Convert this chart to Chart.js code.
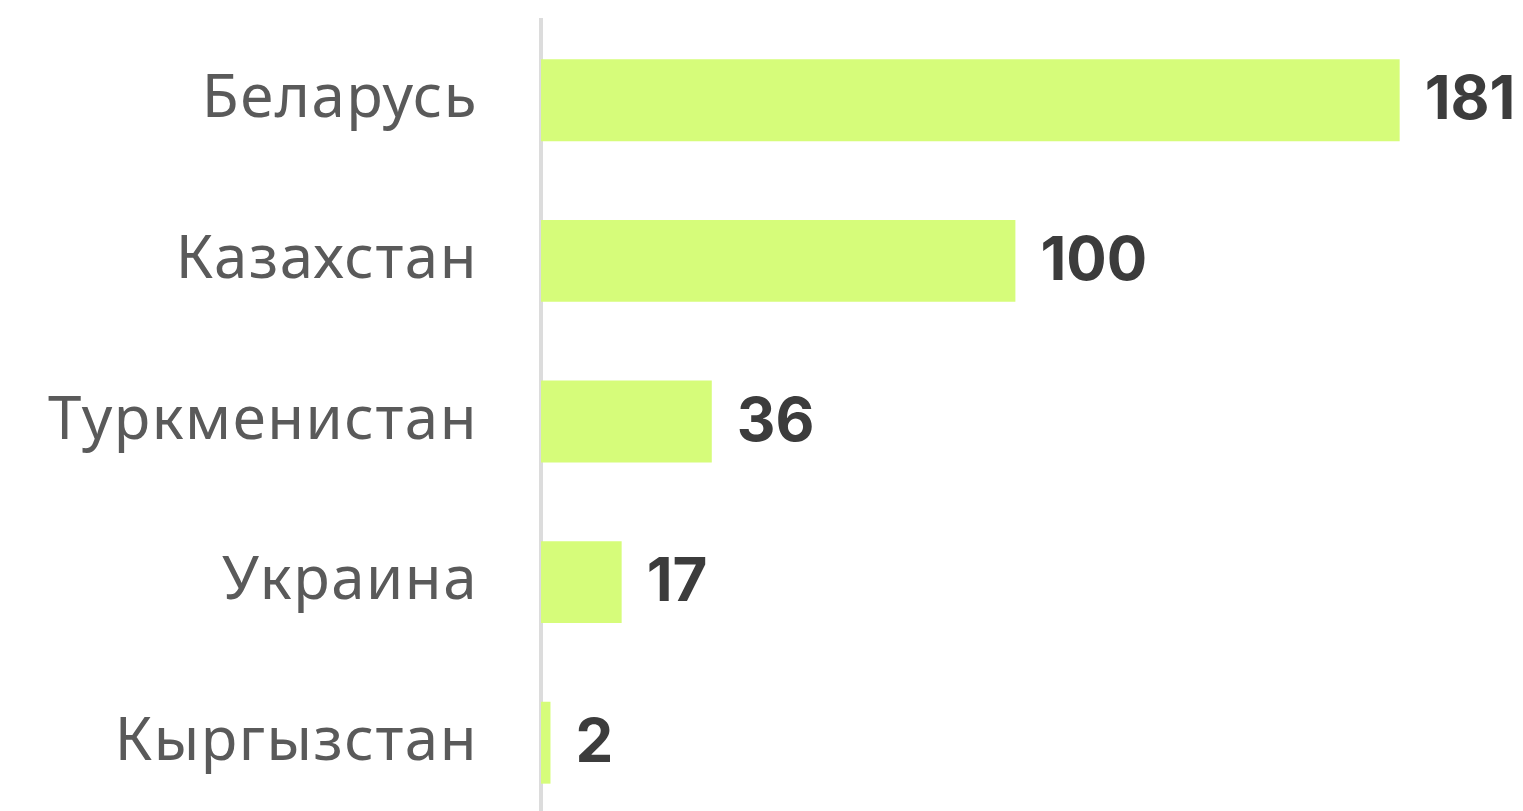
<!DOCTYPE html>
<html>
<head>
<meta charset="utf-8">
<script src="https://cdn.jsdelivr.net/npm/chart.js@4.4.0/dist/chart.umd.min.js"></script>
<style>
    html, body { margin: 0; padding: 0; background: #ffffff; overflow: hidden; }
    #wrap { width: 1523px; height: 811px; overflow: hidden; }
    #box { width: 1523px; height: 823px; }
</style>
</head>
<body>
<div id="wrap"><div id="box"><canvas id="exportChart"></canvas></div></div>
<script>
const countries = ['Беларусь', 'Казахстан', 'Туркменистан', 'Украина', 'Кыргызстан'];
const volumes = [181, 100, 36, 17, 2];

// a little tracking for the category labels
const labelSpacing = {
    id: 'labelSpacing',
    beforeDraw(chart) {
        chart.ctx.letterSpacing = '1.5px';
    }
};

// value labels to the right of each bar
const valueLabels = {
    id: 'valueLabels',
    afterDatasetsDraw(chart) {
        const ctx = chart.ctx;
        const meta = chart.getDatasetMeta(0);
        ctx.save();
        ctx.letterSpacing = '0px';
        ctx.font = '700 60px Inter';
        ctx.fillStyle = '#3c3c3c';
        ctx.textAlign = 'left';
        ctx.textBaseline = 'middle';
        meta.data.forEach(function(bar, i) {
            ctx.fillText(String(volumes[i]), bar.x + 25, bar.y + 1);
        });
        ctx.restore();
    }
};

const ctx = document.getElementById('exportChart').getContext('2d');
new Chart(ctx, {
    type: 'bar',
    data: {
        labels: countries,
        datasets: [{
            data: volumes,
            backgroundColor: '#d6fc7a',
            borderWidth: 0,
            barPercentage: 1,
            categoryPercentage: 0.51
        }]
    },
    options: {
        indexAxis: 'y',
        responsive: true,
        maintainAspectRatio: false,
        animation: false,
        layout: {
            padding: { top: 20, right: 0, bottom: 0, left: 0 }
        },
        plugins: {
            legend: { display: false },
            tooltip: { enabled: false }
        },
        scales: {
            x: {
                display: false,
                min: 0,
                max: 207
            },
            y: {
                afterFit: function(scale) {
                    scale.width = 541;
                    scale.paddingTop = 0;
                    scale.paddingBottom = 0;
                },
                grid: {
                    display: false,
                    drawTicks: false
                },
                border: {
                    display: true,
                    color: '#dcdcdc',
                    width: 4
                },
                ticks: {
                    color: '#5a5a5a',
                    padding: 63,
                    font: {
                        family: '"Noto Sans"',
                        size: 60
                    }
                }
            }
        }
    },
    plugins: [labelSpacing, valueLabels]
});
</script>
</body>
</html>
